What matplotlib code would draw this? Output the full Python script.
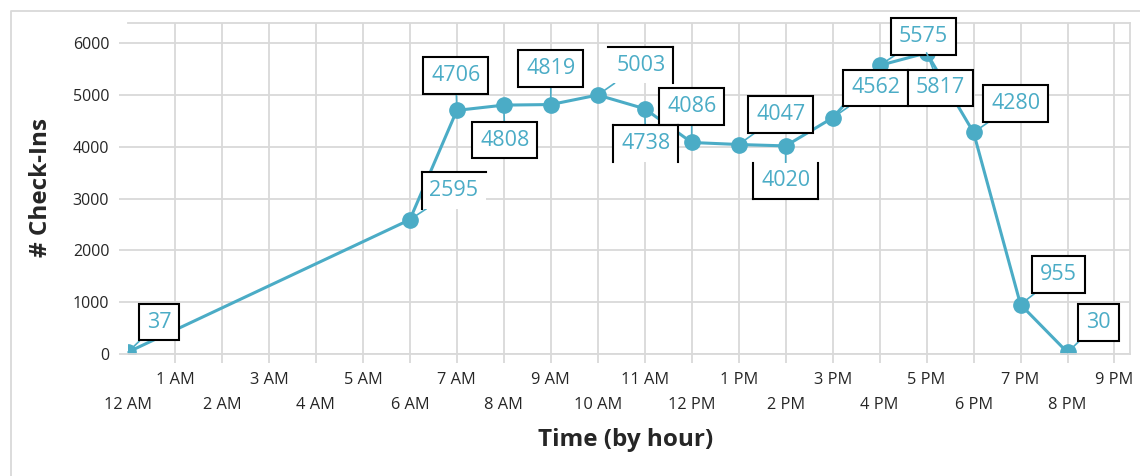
import numpy as np
import matplotlib
matplotlib.use('Agg')
import matplotlib.pyplot as plt
from matplotlib.lines import Line2D
from matplotlib.transforms import IdentityTransform

plt.rcParams['font.family'] = ['Open Sans', 'DejaVu Sans']

hour_labels = ['12 AM', '1 AM', '2 AM', '3 AM', '4 AM', '5 AM', '6 AM', '7 AM', '8 AM',
               '9 AM', '10 AM', '11 AM', '12 PM', '1 PM', '2 PM', '3 PM', '4 PM', '5 PM',
               '6 PM', '7 PM', '8 PM', '9 PM']
hours = [0, 6, 7, 8, 9, 10, 11, 12, 13, 14, 15, 16, 17, 18, 19, 20]
checkins = [37, 2595, 4706, 4808, 4819, 5003, 4738, 4086, 4047, 4020, 4562, 5575, 5817,
            4280, 955, 30]

# label offsets in pixels from the point, and which box sides are drawn
offsets = [(31, 30), (44, 29), (-1, 35), (1, -35), (0, 36), (43, 30), (1, -35), (0, 36),
           (42, 30), (0, -35), (43, 30), (44, 29), (14, -35), (42, 29), (38, 30), (31, 30)]
sides = ['tlbr', 'tl', 'tlbr', 'tlbr', 'tlbr', 'tr', 'tlr', 'tlbr',
         'tlbr', 'lbr', 'tlbr', 'tlbr', 'tlbr', 'tlbr', 'tlbr', 'tlbr']

teal = '#4BACC6'
grid_c = '#D9D9D9'
txt_c = '#262626'

fig = plt.figure(figsize=(11.4, 4.76), dpi=100)
ax = fig.add_axes([128/1140, 1-354/476, (1130-128)/1140, (354-22.7)/476])

ax.plot(hours, checkins, color=teal, lw=2.2, marker='o', ms=11, zorder=2)

ax.set_xlim(0, 21.33)
ax.set_ylim(0, 6400)
ax.set_yticks(np.arange(0, 6001, 1000))

odd = list(range(1, 22, 2))
even = list(range(0, 22, 2))
ax.set_xticks(odd)
ax.set_xticklabels([hour_labels[i] for i in odd])
ax.set_xticks(even, minor=True)
ax.set_xticklabels([hour_labels[i] for i in even], minor=True)

ax.grid(True, which='both', color=grid_c, lw=1.3)
ax.set_axisbelow(True)
ax.xaxis.get_minor_ticks()[0].gridline.set_visible(False)
ax.xaxis.get_minor_ticks()[0].tick1line.set_visible(False)

ax.tick_params(axis='x', which='major', length=6.5, width=1.3, color=grid_c, pad=6.5,
               labelsize=11.8, labelcolor=txt_c)
ax.tick_params(axis='x', which='minor', length=6.5, width=1.3, color=grid_c, pad=24.5,
               labelsize=11.8, labelcolor=txt_c)
ax.tick_params(axis='y', length=6.5, width=1.3, color=grid_c, pad=7,
               labelsize=11.5, labelcolor=txt_c)

for s in ['top', 'right', 'bottom']:
    ax.spines[s].set_color(grid_c)
    ax.spines[s].set_linewidth(1.3)
ax.spines['left'].set_visible(False)

fig.text(41/1140, 1-188/476, '# Check-Ins', rotation=90, ha='center', va='center',
         fontsize=17.5, fontweight='bold', color=txt_c)
fig.text(626/1140, 1-440/476, 'Time (by hour)', ha='center', va='center',
         fontsize=17.5, fontweight='bold', color=txt_c)

anns = []
for x, y, off, sd in zip(hours, checkins, offsets, sides):
    ec = 'black' if sd == 'tlbr' else 'none'
    a = ax.annotate(str(y), xy=(x, y), xytext=off, textcoords='offset pixels',
                    ha='center', va='center', fontsize=15.5, color=teal,
                    bbox=dict(boxstyle='square,pad=0.36', fc='white', ec=ec, lw=1.5),
                    arrowprops=dict(arrowstyle='-', color=teal, lw=1.2,
                                    shrinkA=0, shrinkB=0),
                    zorder=3)
    anns.append((a, sd))

# partial box borders
fig.canvas.draw()
r = fig.canvas.get_renderer()
for a, sd in anns:
    if sd == 'tlbr':
        continue
    bb = a.get_bbox_patch().get_window_extent(r)
    segs = {'t': ([bb.x0, bb.x1], [bb.y1, bb.y1]),
            'b': ([bb.x0, bb.x1], [bb.y0, bb.y0]),
            'l': ([bb.x0, bb.x0], [bb.y0, bb.y1]),
            'r': ([bb.x1, bb.x1], [bb.y0, bb.y1])}
    for c in sd:
        xs, ys = segs[c]
        fig.add_artist(Line2D(xs, ys, color='black', lw=1.5, transform=IdentityTransform(),
                              zorder=4))

# outer chart frame (left and top edges only show)
fig.add_artist(Line2D([10.5, 10.5, 1140], [0, 465.5, 465.5], color=grid_c, lw=1.3,
                      transform=IdentityTransform()))

fig.savefig('out.png', dpi=100)
